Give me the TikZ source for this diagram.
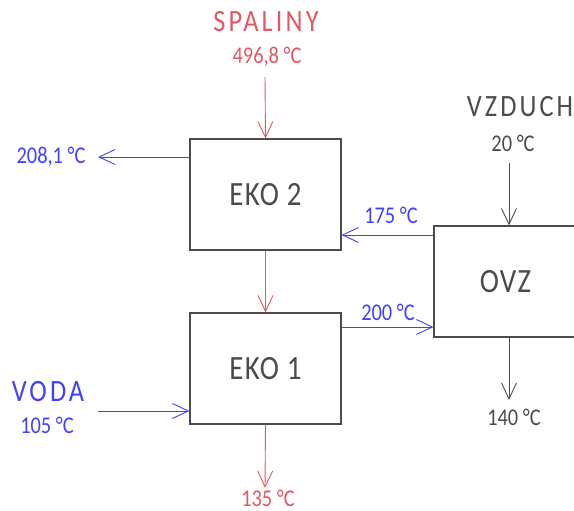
\documentclass[tikz,border=0pt]{standalone}
\usepackage{fontspec}
\setmainfont{Carlito}[FakeStretch=0.85]
\usetikzlibrary{arrows.meta}
\definecolor{cred}{RGB}{226,88,98}
\definecolor{cblue}{RGB}{64,64,255}
\definecolor{cgray}{RGB}{75,75,75}
\tikzset{
  box/.style={draw=cgray,line width=1.1pt,minimum width=151pt,minimum height=111pt,inner sep=0pt,text=cgray,font=\fontsize{34}{34}\selectfont\addfontfeature{LetterSpace=4}},
  arr/.style={line width=0.9pt,-{Straight Barb[length=16pt,width=15pt,line width=0.9pt]}},
  rarr/.style={arr,draw=cred},
  barr/.style={arr,draw=cblue},
  garr/.style={arr,draw=cgray},
  big/.style={font=\fontsize{31}{31}\selectfont\addfontfeature{LetterSpace=10},inner sep=0pt},
  small/.style={font=\fontsize{24}{24}\selectfont,inner sep=0pt},
}
\begin{document}
\begin{tikzpicture}[x=1pt,y=-1pt]
\useasboundingbox (0,0) rectangle (574,511);
\node[box] (eko2) at (265.5,194.5) {EKO 2};
\node[box] (eko1) at (265.5,368.5) {EKO 1};
\node[box,minimum width=143pt] (ovz) at (505.5,281.5) {OVZ};
% labels
\node[big,text=cred] (spal) at (266,22) {SPALINY};
\node[small,text=cred] (t496) at (267,57) {496,8 °C};
\node[small,text=cred] (t135) at (268,498) {135 °C};
\node[small,text=cblue] (t208) at (51,157) {208,1 °C};
\node[small,text=cblue] (t175) at (391,215) {175 °C};
\node[small,text=cblue] (t200) at (388,312) {200 °C};
\node[big,text=cblue] (voda) at (48,392) {VODA};
\node[small,text=cblue] (t105) at (47,425) {105 °C};
\node[big,text=cgray] (vzd) at (520,107) {VZDUCH};
\node[small,text=cgray] (t20) at (513,143) {20 °C};
\node[small,text=cgray] (t140) at (514,417) {140 °C};
% free ends
\coordinate (spalin) at (265,77);
\coordinate (spalout) at (265,488);
\coordinate (w208) at (98,157);
\coordinate (w105) at (98,411);
\coordinate (airin) at (509,163);
\coordinate (airout) at (509,400);
% arrows
\draw[rarr] (spalin) -- (eko2.north);
\draw[rarr] (eko2.south) -- (eko1.north);
\draw[rarr] (eko1.south) -- (spalout);
\draw[barr] (eko2.west |- w208) -- (w208);
\draw[barr] (w105) -- (eko1.west |- w105);
\draw[barr] ([yshift=46.5pt]ovz.west) -- ([yshift=46.5pt]ovz.west -| eko2.east);
\draw[barr] ([yshift=41.5pt]eko1.east) -- ([yshift=41.5pt]eko1.east -| ovz.west);
\draw[garr] (airin) -- (ovz.north -| airin);
\draw[garr] (ovz.south -| airout) -- (airout);
\end{tikzpicture}
\end{document}
